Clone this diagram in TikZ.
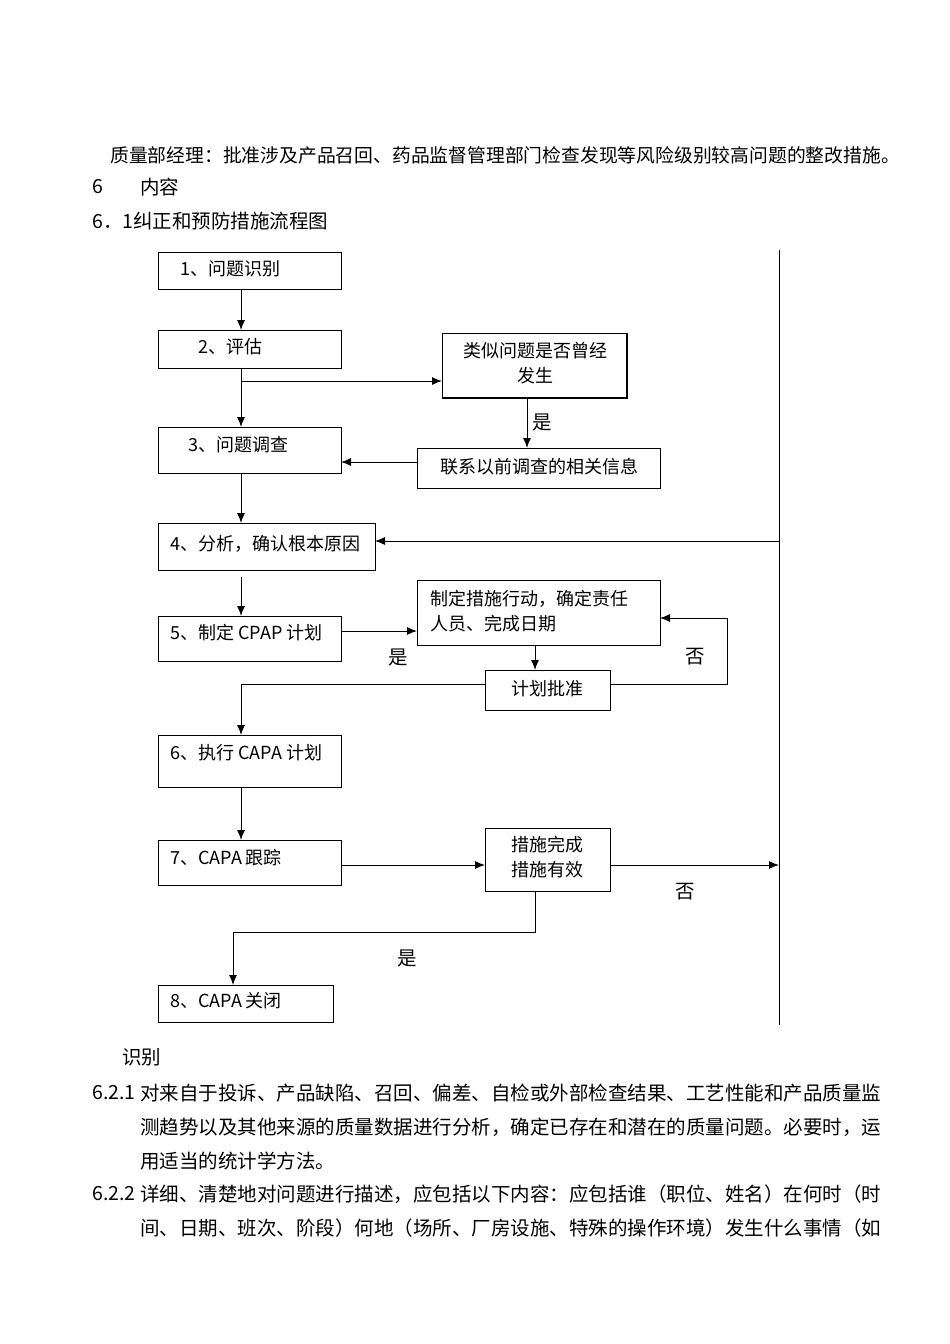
\documentclass[tikz,border=0pt]{standalone}
\usepackage{fontspec}
\usetikzlibrary{arrows.meta}
\setmainfont{Noto Sans CJK SC}
\begin{document}
\begin{tikzpicture}[x=1pt,y=-1pt,
  bx/.style={draw,line width=0.9pt},
  ln/.style={line width=1pt},
  ar/.style={ln,-{Latex[length=10pt,width=8pt]}},
  tx/.style={font=\fontsize{19.5}{24}\selectfont,anchor=west,inner sep=0pt},
  bt/.style={font=\fontsize{18}{24}\selectfont,anchor=west,inner sep=0pt},
  ct/.style={font=\fontsize{18}{25}\selectfont,align=center,inner sep=0pt}]
\useasboundingbox (0,0) rectangle (950,1344);
% header text
\node[tx,font=\fontsize{18.8}{24}\selectfont] (h1) at (110,155) {质量部经理：批准涉及产品召回、药品监督管理部门检查发现等风险级别较高问题的整改措施。};
\node[tx] (h2) at (92,187) {6};
\node[tx] (h3) at (140,187) {内容};
\node[tx] (h4) at (92,221) {6．1纠正和预防措施流程图};
% boxes
\draw[bx] (158,252) rectangle (341,289); \node[bt] (t1) at (180,269) {1、问题识别};
\draw[bx] (158,330) rectangle (341,368); \node[bt] (t2) at (198,347) {2、评估};
\draw[bx] (442,333) rectangle (627,398);
\draw[line width=2pt] (443,398) -- (627,398) -- (627,333);
\node[ct] (ts) at (535,363) {类似问题是否曾经\\发生};
\draw[bx] (158,427) rectangle (341,473); \node[bt] (t3) at (188,445) {3、问题调查};
\draw[bx] (417,448) rectangle (660,488); \node[ct] (tl) at (539,467) {联系以前调查的相关信息};
\draw[bx] (158,523) rectangle (375,570); \node[bt] (t4) at (170,544) {4、分析，确认根本原因};
\draw[bx] (417,580) rectangle (660,645); \node[ct,align=left,anchor=west] (tp) at (430,611) {制定措施行动，确定责任\\人员、完成日期};
\draw[bx] (158,616) rectangle (341,661); \node[bt] (t5) at (170,633) {5、制定 CPAP 计划};
\draw[bx] (485,670) rectangle (610,710); \node[ct] (ta) at (547,689) {计划批准};
\draw[bx] (158,735) rectangle (341,787); \node[bt] (t6) at (170,753) {6、执行 CAPA 计划};
\draw[bx] (158,840) rectangle (341,885); \node[bt] (t7) at (170,858) {7、CAPA 跟踪};
\draw[bx] (485,828) rectangle (610,891); \node[ct] (tc) at (547,857) {措施完成\\措施有效};
\draw[bx] (158,985) rectangle (333,1022); \node[bt] (t8) at (170,1001) {8、CAPA 关闭};
% vertical line
\draw[ln] (779,250) -- (779,1025);
% connectors
\draw[ar] (241,289) -- (241,330);
\draw[ar] (241,368) -- (241,427);
\draw[ar] (241,381) -- (442,381);
\draw[ar] (527,398) -- (527,448);
\node[tx] (y1) at (532,422) {是};
\draw[ar] (417,462) -- (341,462);
\draw[ar] (241,473) -- (241,523);
\draw[ar] (779,541) -- (375,541);
\draw[ar] (241,577) -- (241,616);
\draw[ar] (341,631) -- (417,631);
\node[tx] (y2) at (388,657) {是};
\draw[ar] (535,645) -- (535,670);
\draw[ar] (610,684) -- (727,684) -- (727,618) -- (660,618);
\node[tx] (n1) at (685,657) {否};
\draw[ar] (485,684) -- (241,684) -- (241,735);
\draw[ar] (241,787) -- (241,840);
\draw[ar] (341,865) -- (485,865);
\draw[ar] (610,865) -- (779,865);
\node[tx] (n2) at (675,892) {否};
\draw[ar] (535,891) -- (535,932) -- (233,932) -- (233,985);
\node[tx] (y3) at (397,958) {是};
% footer text
\node[tx] (f0) at (122,1057) {识别};
\node[tx] (f1) at (92,1093) {6.2.1};
\node[tx] (f2) at (140,1093) {对来自于投诉、产品缺陷、召回、偏差、自检或外部检查结果、工艺性能和产品质量监};
\node[tx] (f3) at (140,1127) {测趋势以及其他来源的质量数据进行分析，确定已存在和潜在的质量问题。必要时，运};
\node[tx] (f4) at (140,1161) {用适当的统计学方法。};
\node[tx] (f5) at (92,1194) {6.2.2};
\node[tx] (f6) at (140,1194) {详细、清楚地对问题进行描述，应包括以下内容：应包括谁（职位、姓名）在何时（时};
\node[tx] (f7) at (140,1228) {间、日期、班次、阶段）何地（场所、厂房设施、特殊的操作环境）发生什么事情（如};
\end{tikzpicture}
\end{document}
